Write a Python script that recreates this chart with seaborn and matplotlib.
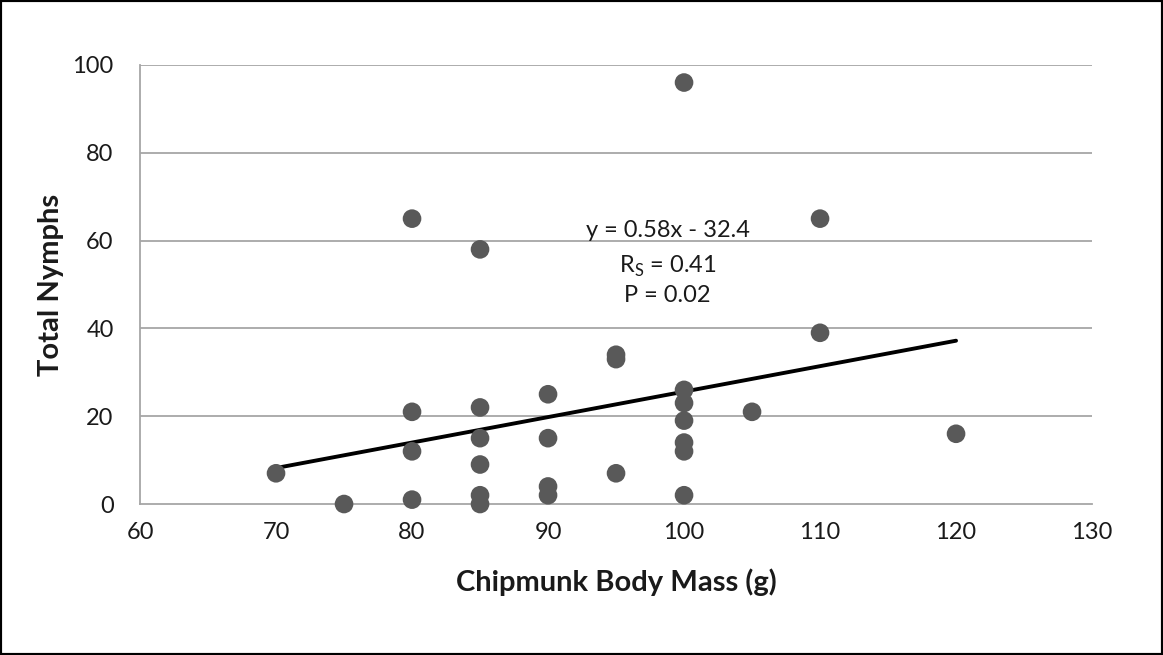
import matplotlib
matplotlib.use("Agg")
import matplotlib.pyplot as plt
import seaborn as sns
import pandas as pd
import numpy as np

# Body mass (g) and total nymphs per chipmunk
body_mass = [70, 75,
             80, 80, 80, 80,
             85, 85, 85, 85, 85, 85,
             90, 90, 90, 90,
             95, 95, 95,
             100, 100, 100, 100, 100, 100, 100,
             105,
             110, 110,
             120]
nymphs = [7, 0,
          65, 21, 12, 1,
          58, 22, 15, 9, 2, 0,
          25, 15, 4, 2,
          34, 33, 7,
          96, 26, 23, 19, 14, 12, 2,
          21,
          65, 39,
          16]

# Regression line reported on the chart
slope, intercept = 0.58, -32.4
fit_x = [70, 120]
stats_lines = ["y = 0.58x - 32.4", r"R$_\mathregular{S}$ = 0.41", "P = 0.02"]

x_ticks = [60, 70, 80, 90, 100, 110, 120, 130]
y_ticks = [0, 20, 40, 60, 80, 100]

df = pd.DataFrame({"mass": body_mass, "nymphs": nymphs})
fit_df = pd.DataFrame({"mass": fit_x,
                       "nymphs": [slope * v + intercept for v in fit_x]})

sns.set_style("white")
plt.rcParams["font.family"] = ["Lato", "DejaVu Sans"]

fig = plt.figure(figsize=(11.63, 6.55), dpi=100)
ax = fig.add_axes([0.1204, 0.2305, 0.8186, 0.6703])

for v in y_ticks[1:]:
    ax.axhline(v, color="#a6a6a6", lw=1.3, zorder=0)

sns.lineplot(data=fit_df, x="mass", y="nymphs", ax=ax, color="black",
             lw=2.8, zorder=2)
sns.scatterplot(data=df, x="mass", y="nymphs", ax=ax, color="#595959",
                s=180, edgecolor="none", zorder=3, clip_on=False)

ax.set_xlim(60, 130)
ax.set_ylim(0, 100)
ax.set_xticks(x_ticks)
ax.set_yticks(y_ticks)
ax.tick_params(axis="both", length=0, labelsize=17, colors="#1a1a1a")
ax.tick_params(axis="x", pad=13)
ax.tick_params(axis="y", pad=19)

for side in ["top", "right"]:
    ax.spines[side].set_visible(False)
for side in ["left", "bottom"]:
    ax.spines[side].set_color("#a6a6a6")
    ax.spines[side].set_linewidth(1.3)

ax.set_xlabel("Chipmunk Body Mass (g)", fontsize=21, fontweight="bold",
              labelpad=18, color="#1a1a1a")
ax.set_ylabel("Total Nymphs", fontsize=21, fontweight="bold",
              labelpad=6, color="#1a1a1a")

for txt, yv in zip(stats_lines, [62.4, 54.2, 47.4]):
    ax.text(98.8, yv, txt, ha="center", va="center", fontsize=17,
            color="#1a1a1a")

fig.patches.append(plt.Rectangle((0, 0), 1, 1, transform=fig.transFigure,
                                 fill=False, edgecolor="black", lw=3))

fig.savefig("out.png", dpi=100)
